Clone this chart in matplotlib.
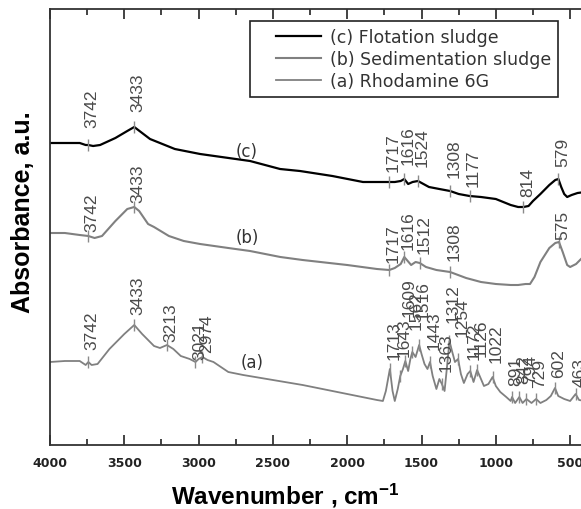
import numpy as np
import matplotlib
matplotlib.use('Agg')
import matplotlib.pyplot as plt
from matplotlib.lines import Line2D
from matplotlib.legend_handler import HandlerLine2D

plt.rcParams['font.family'] = ['Liberation Sans', 'DejaVu Sans']
plt.rcParams['mathtext.fontset'] = 'custom'
plt.rcParams['mathtext.rm'] = 'Liberation Sans:bold'
plt.rcParams['mathtext.default'] = 'rm'

# spectra (wavenumber in cm-1, absorbance in a.u., offset per trace)
wn_c = [4000, 3900, 3800, 3760, 3742, 3710, 3663, 3560, 3480, 3433, 3380, 3327,
        3160, 2990, 2654, 2452, 2318, 2100, 1894, 1760, 1717, 1680, 1640, 1616,
        1590, 1560, 1524, 1450, 1380, 1308, 1250, 1177, 1100, 1000, 900, 850,
        814, 780, 750, 700, 640, 600, 579, 560, 540, 520, 490, 450, 400]
ab_c = [3.02, 3.02, 3.02, 3.00, 3.00, 2.99, 3.00, 3.07, 3.14, 3.18, 3.12, 3.06,
        2.96, 2.91, 2.84, 2.76, 2.74, 2.69, 2.63, 2.63, 2.63, 2.63, 2.64, 2.66,
        2.61, 2.63, 2.64, 2.58, 2.56, 2.54, 2.51, 2.49, 2.48, 2.46, 2.40, 2.38,
        2.38, 2.39, 2.44, 2.51, 2.60, 2.65, 2.66, 2.58, 2.51, 2.48, 2.50, 2.52, 2.53]

wn_b = [4000, 3900, 3800, 3742, 3700, 3650, 3560, 3480, 3433, 3400, 3340, 3300,
        3200, 3100, 2990, 2800, 2654, 2450, 2300, 2000, 1800, 1717, 1680, 1640,
        1616, 1570, 1540, 1512, 1470, 1400, 1308, 1200, 1100, 1000, 900, 850,
        800, 770, 740, 700, 640, 600, 575, 550, 520, 500, 460, 420, 400]
ab_b = [2.12, 2.12, 2.10, 2.09, 2.07, 2.09, 2.24, 2.36, 2.38, 2.34, 2.21, 2.18,
        2.09, 2.04, 2.01, 1.97, 1.94, 1.88, 1.85, 1.80, 1.76, 1.75, 1.77, 1.81,
        1.88, 1.80, 1.83, 1.82, 1.78, 1.75, 1.73, 1.67, 1.63, 1.61, 1.60, 1.60,
        1.61, 1.61, 1.68, 1.83, 1.97, 2.02, 2.03, 1.93, 1.80, 1.78, 1.81, 1.87, 1.90]

wn_a = [4000, 3900, 3800, 3760, 3742, 3720, 3680, 3600, 3500, 3433, 3380, 3300,
        3260, 3213, 3170, 3120, 3060, 3021, 3000, 2974, 2940, 2900, 2850, 2800,
        2700, 2500, 2300, 2100, 1900, 1800, 1760, 1740, 1713, 1695, 1680, 1660,
        1643, 1625, 1609, 1590, 1575, 1562, 1540, 1516, 1500, 1480, 1460, 1443,
        1425, 1400, 1380, 1363, 1345, 1330, 1312, 1295, 1275, 1254, 1235, 1215,
        1190, 1172, 1150, 1126, 1100, 1080, 1050, 1022, 1000, 970, 930, 900,
        891, 870, 842, 820, 794, 760, 729, 700, 660, 630, 602, 580, 540, 500,
        463, 440, 400]
ab_a = [0.83, 0.84, 0.84, 0.80, 0.83, 0.80, 0.81, 0.96, 1.11, 1.20, 1.11, 0.99,
        0.97, 1.00, 0.96, 0.89, 0.86, 0.83, 0.86, 0.88, 0.85, 0.83, 0.78, 0.73,
        0.70, 0.65, 0.60, 0.54, 0.48, 0.45, 0.44, 0.54, 0.76, 0.54, 0.44, 0.56,
        0.69, 0.76, 0.84, 0.74, 0.86, 0.93, 0.88, 1.00, 0.91, 0.81, 0.76, 0.83,
        0.69, 0.56, 0.66, 0.61, 0.54, 0.76, 1.04, 0.94, 0.83, 0.86, 0.71, 0.62,
        0.71, 0.74, 0.63, 0.75, 0.66, 0.59, 0.61, 0.68, 0.59, 0.53, 0.48, 0.44,
        0.48, 0.42, 0.48, 0.42, 0.46, 0.42, 0.46, 0.42, 0.45, 0.49, 0.57, 0.49,
        0.46, 0.44, 0.51, 0.45, 0.44]

peaks_c = [3742, 3433, 1717, 1616, 1524, 1308, 1177, 814, 579]
peaks_b = [3742, 3433, 1717, 1616, 1512, 1308, 575]
peaks_a = [3742, 3433, 3213, 3021, 2974, 1713, 1643, 1609, 1562, 1516, 1443,
           1363, 1312, 1254, 1172, 1126, 1022, 891, 842, 794, 729, 602, 463]

legend_labels = ['(c) Flotation sludge', '(b) Sedimentation sludge', '(a) Rhodamine 6G']

# how far (pixels) each peak label sits above its trace
gap_c = [18, 16, 11, 15, 15, 14, 10, 11, 13]
gap_b = [5, 5, 8, 8, 10, 12, 3]
gap_a = [13, 11, 4, 3, 5, 10, 20, 45, 23, 26, 13, 13, 19, 23, 12, 14, 15,
         12, 14, 16, 12, 11, 8]

fig = plt.figure(figsize=(5.81, 5.10), dpi=100)
ax = fig.add_axes([50 / 581, 64 / 510, 535 / 581, 436 / 510])

ax.plot(wn_c, ab_c, color='black', lw=1.6, label=legend_labels[0])
ax.plot(wn_b, ab_b, color='#808080', lw=1.5, label=legend_labels[1])
ax.plot(wn_a, ab_a, color='#808080', lw=1.3, label=legend_labels[2])

lab_col = '#4a4a4a'
for wn, ab, peaks, gaps in [(wn_c, ab_c, peaks_c, gap_c),
                            (wn_b, ab_b, peaks_b, gap_b),
                            (wn_a, ab_a, peaks_a, gap_a)]:
    for p, g in zip(peaks, gaps):
        yv = np.interp(p, wn[::-1], ab[::-1])
        ax.plot(p, yv, marker='|', markersize=9, mew=1.0, color='#8a8a8a')
        ax.annotate(str(p), xy=(p, yv), xytext=(4, g), textcoords='offset pixels',
                    rotation=90, ha='center', va='bottom', fontsize=12.5,
                    color=lab_col)

tag_font = dict(fontsize=12, color='#333333', ha='center', va='center',
                family='DejaVu Sans')
ax.text(2674, 2.94, '(c)', **tag_font)
ax.text(2674, 2.08, '(b)', **tag_font)
ax.text(2641, 0.83, '(a)', **tag_font)

ax.set_xlim(4000, 400)
ax.set_ylim(0, 4.36)
ax.set_xticks(np.arange(4000, 400, -500))
ax.set_xticks(np.arange(3750, 400, -500), minor=True)
ax.set_yticks([])
ax.tick_params(axis='x', which='both', direction='in', top=True, colors='#222222',
               labelsize=9, pad=8)
ax.tick_params(axis='x', which='major', length=7, width=1.2)
ax.tick_params(axis='x', which='minor', length=4, width=1.2)
for lbl in ax.get_xticklabels():
    lbl.set_fontweight('bold')
    lbl.set_family('DejaVu Sans')
for s in ax.spines.values():
    s.set_color('#333333')
    s.set_linewidth(1.3)

ax.set_xlabel('Wavenumber , cm$^{-1}$', fontsize=17.5, fontweight='bold')
ax.xaxis.set_label_coords(0.44, -0.083)
ax.set_ylabel('Absorbance, a.u.', fontsize=18, fontweight='bold')
ax.yaxis.set_label_coords(-0.028, 0.537)

leg = ax.legend(loc='upper left', bbox_to_anchor=(0.374, 0.972), borderaxespad=0,
                prop={'family': 'DejaVu Sans', 'size': 12.5}, frameon=True,
                fancybox=False, framealpha=1, edgecolor='#222222',
                borderpad=0.38, labelspacing=0.25, handlelength=3.68,
                handletextpad=0.54,
                handler_map={Line2D: HandlerLine2D(xpad=1.1)})
leg.get_frame().set_linewidth(1.2)
for t in leg.get_texts():
    t.set_color('#333333')

fig.savefig('out.png', dpi=100)
